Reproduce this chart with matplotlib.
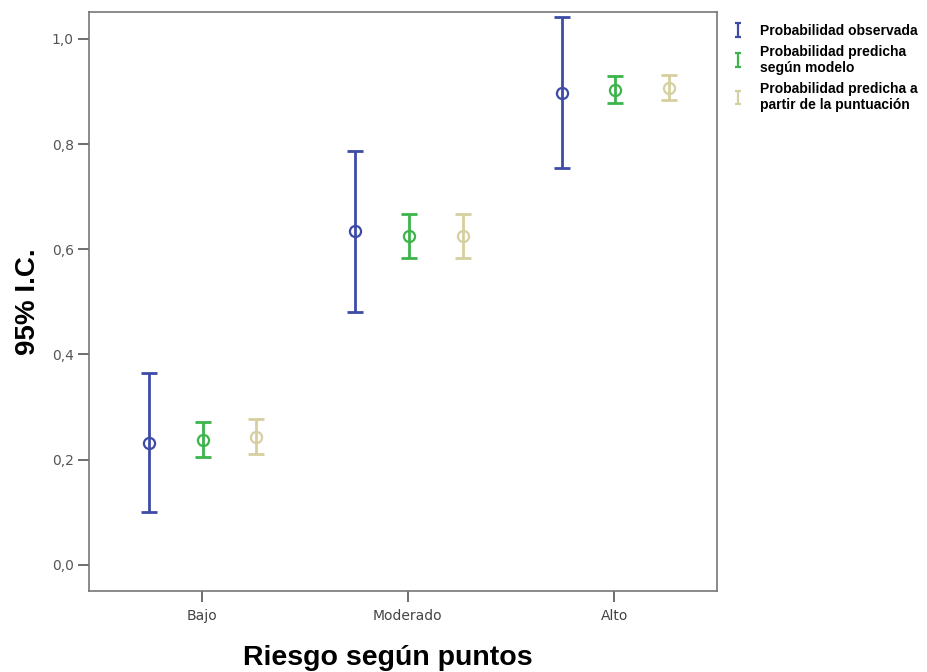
"""Error-bar chart: observed vs predicted probability by risk group (95% CI)."""

import matplotlib.pyplot as plt
import numpy as np

plt.rcParams["font.family"] = ["Liberation Sans", "DejaVu Sans"]

categories = ["Bajo", "Moderado", "Alto"]
series_names = [
    "Probabilidad observada",
    "Probabilidad predicha\nsegún modelo",
    "Probabilidad predicha a\npartir de la puntuación",
]

observed_mean = [0.232, 0.634, 0.898]
observed_low = [0.101, 0.480, 0.755]
observed_high = [0.364, 0.787, 1.042]

model_mean = [0.238, 0.625, 0.903]
model_low = [0.204, 0.583, 0.878]
model_high = [0.272, 0.667, 0.930]

score_mean = [0.243, 0.625, 0.906]
score_low = [0.210, 0.583, 0.884]
score_high = [0.278, 0.667, 0.931]

yticks = [0.0, 0.2, 0.4, 0.6, 0.8, 1.0]
ytick_labels = ["0,0", "0,2", "0,4", "0,6", "0,8", "1,0"]

colors = ["#3d4ba6", "#3cb44a", "#d6cf9f"]
offsets = [-0.255, 0.005, 0.265]

fig = plt.figure(figsize=(9.28, 6.72), dpi=100)
ax = fig.add_axes([0.096, 0.1205, 0.677, 0.8615])

x = np.arange(len(categories))
series = [
    (observed_mean, observed_low, observed_high),
    (model_mean, model_low, model_high),
    (score_mean, score_low, score_high),
]

handles = []
for (mean, low, high), color, off, name in zip(series, colors, offsets, series_names):
    mean = np.array(mean)
    err = [mean - np.array(low), np.array(high) - mean]
    ax.errorbar(x + off, mean, yerr=err, fmt="none", ecolor=color,
                elinewidth=2, capsize=5.5, capthick=2)
    ax.plot(x + off, mean, "o", mfc="none", mec=color, mew=1.6, ms=8)
    # small "I" proxy for the legend
    proxy = ax.errorbar([np.nan], [np.nan], yerr=[[0.1]], fmt="none", ecolor=color,
                        elinewidth=1.6, capsize=2.5, capthick=1.6, label=name)
    handles.append(proxy)

ax.set_xlim(-0.545, 2.5)
ax.set_ylim(-0.05, 1.051)
ax.set_xticks(x)
ax.set_xticklabels(categories, fontsize=10, color="#444444", family="DejaVu Sans")
ax.set_yticks(yticks)
ax.set_yticklabels(ytick_labels, fontsize=10, color="#555555", family="DejaVu Sans")
ax.tick_params(direction="out", length=8, width=1.2, color="#555555", pad=3)
ax.tick_params(axis="x", pad=5)
for spine in ax.spines.values():
    spine.set_color("#777777")
    spine.set_linewidth(1.2)

ax.set_xlabel("Riesgo según puntos", fontsize=20.5, fontweight="bold", labelpad=16)
ax.xaxis.label.set_x(0.476)
ax.set_ylabel("95% I.C.", fontsize=20, fontweight="bold", labelpad=8)

leg = fig.legend(handles=handles, loc="upper left", bbox_to_anchor=(0.783, 0.973),
                 frameon=False, fontsize=10, handlelength=0.8, handletextpad=1.2,
                 labelspacing=0.5, borderaxespad=0)
for t in leg.get_texts():
    t.set_fontweight("bold")

fig.savefig("out.png", dpi=100)
